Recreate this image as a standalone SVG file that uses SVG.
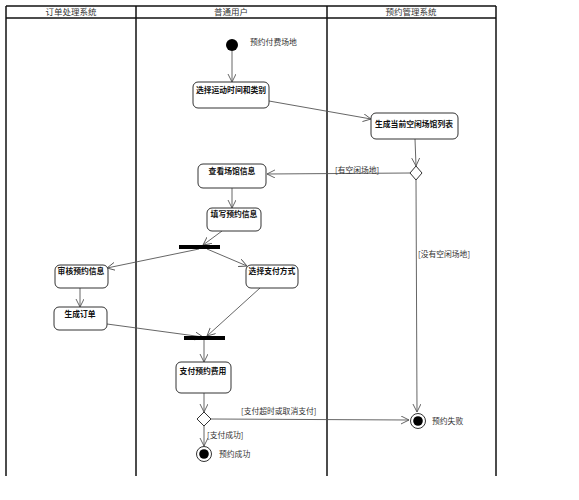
<svg xmlns="http://www.w3.org/2000/svg" width="579" height="500" viewBox="0 0 579 500">
<defs>
<style>
.lane{stroke:#111;stroke-width:1.5;fill:none}
.hdr{font-family:"Noto Sans CJK SC","Liberation Sans",sans-serif;font-size:8.5px;fill:#333;text-anchor:middle}
.node rect{fill:#fff;stroke:#333;stroke-width:1}
.nt{font-family:"Noto Sans CJK SC","Liberation Sans",sans-serif;font-size:7.8px;font-weight:bold;fill:#111;text-anchor:middle}
.lbl{font-family:"Noto Sans CJK SC","Liberation Sans",sans-serif;font-size:7.8px;fill:#333}
.edge{stroke:#555;stroke-width:0.9;fill:none;marker-end:url(#arr)}
.bar{fill:#000}
.dia{fill:#fff;stroke:#333;stroke-width:1}
</style>
<marker id="arr" markerWidth="10" markerHeight="10" refX="8" refY="4" orient="auto" markerUnits="userSpaceOnUse">
<path d="M0,0 L8,4 L0,8" fill="none" stroke="#555" stroke-width="0.9"/>
</marker>
</defs>
<rect width="579" height="500" fill="#fff"/>
<g id="lanes">
<line class="lane" x1="6" y1="6" x2="496" y2="6"/>
<line class="lane" x1="6" y1="18" x2="496" y2="18"/>
<line class="lane" x1="6" y1="6" x2="6" y2="476"/>
<line class="lane" x1="136" y1="6" x2="136" y2="476"/>
<line class="lane" x1="327" y1="6" x2="327" y2="476"/>
<line class="lane" x1="496" y1="6" x2="496" y2="476"/>
<text class="hdr" x="71" y="15">订单处理系统</text>
<text class="hdr" x="231" y="15">普通用户</text>
<text class="hdr" x="411" y="15">预约管理系统</text>
</g>
<g id="connectors">
<line class="edge" x1="232" y1="51" x2="232" y2="82"/>
<line class="edge" x1="269" y1="101" x2="371" y2="119"/>
<line class="edge" x1="415" y1="139" x2="416" y2="166"/>
<line class="edge" x1="410" y1="173" x2="267" y2="174"/>
<line class="edge" x1="232" y1="188" x2="232" y2="208"/>
<line class="edge" x1="222" y1="231" x2="203" y2="245"/>
<line class="edge" x1="199" y1="249" x2="107" y2="268"/>
<line class="edge" x1="207" y1="249" x2="247" y2="266"/>
<line class="edge" x1="80" y1="288" x2="80" y2="307"/>
<line class="edge" x1="107" y1="324" x2="203" y2="337"/>
<line class="edge" x1="260" y1="288" x2="207" y2="336"/>
<line class="edge" x1="204" y1="340" x2="204" y2="362"/>
<line class="edge" x1="204" y1="393" x2="204" y2="412"/>
<line class="edge" x1="211" y1="419" x2="409" y2="420"/>
<line class="edge" x1="416" y1="180" x2="417" y2="412"/>
<line class="edge" x1="204" y1="426" x2="204" y2="446"/>
<text class="lbl" x="335" y="173">[有空闲场地]</text>
<text class="lbl" x="418" y="257">[没有空闲场地]</text>
<text class="lbl" x="241" y="414">[支付超时或取消支付]</text>
<text class="lbl" x="207" y="438">[支付成功]</text>
</g>
<g id="start">
<circle cx="232" cy="45" r="6" fill="#000"/>
<text class="lbl" x="250" y="45">预约付费场地</text>
</g>
<g id="n_select" class="node">
<rect x="193" y="82" width="76" height="26" rx="5"/>
<text class="nt" x="231" y="93">选择运动时间和类别</text>
</g>
<g id="n_list" class="node">
<rect x="371" y="113" width="87" height="26" rx="5"/>
<text class="nt" x="414" y="127">生成当前空闲场馆列表</text>
</g>
<g id="d_avail">
<polygon class="dia" points="416,166 422,173 416,180 410,173"/>
</g>
<g id="n_view" class="node">
<rect x="198" y="164" width="68" height="24" rx="5"/>
<text class="nt" x="232" y="174">查看场馆信息</text>
</g>
<g id="n_fill" class="node">
<rect x="207" y="208" width="54" height="23" rx="5"/>
<text class="nt" x="234" y="217">填写预约信息</text>
</g>
<g id="fork">
<rect class="bar" x="179" y="245" width="41" height="4"/>
</g>
<g id="n_review" class="node">
<rect x="55" y="265" width="53" height="23" rx="5"/>
<text class="nt" x="81" y="274">审核预约信息</text>
</g>
<g id="n_pay_method" class="node">
<rect x="246" y="265" width="52" height="23" rx="5"/>
<text class="nt" x="272" y="274">选择支付方式</text>
</g>
<g id="n_order" class="node">
<rect x="54" y="307" width="53" height="23" rx="5"/>
<text class="nt" x="80" y="317">生成订单</text>
</g>
<g id="join">
<rect class="bar" x="184" y="336" width="41" height="4"/>
</g>
<g id="n_pay" class="node">
<rect x="176" y="362" width="55" height="31" rx="5"/>
<text class="nt" x="203" y="374">支付预约费用</text>
</g>
<g id="d_pay">
<polygon class="dia" points="204,412 211,419 204,426 197,419"/>
</g>
<g id="end_fail">
<circle cx="418" cy="421" r="7.5" fill="#fff" stroke="#333" stroke-width="1"/>
<circle cx="418" cy="421" r="4.8" fill="#000"/>
<text class="lbl" x="432" y="424">预约失败</text>
</g>
<g id="end_ok">
<circle cx="204" cy="454" r="7.5" fill="#fff" stroke="#333" stroke-width="1"/>
<circle cx="204" cy="454" r="4.8" fill="#000"/>
<text class="lbl" x="219" y="457">预约成功</text>
</g>
</svg>
